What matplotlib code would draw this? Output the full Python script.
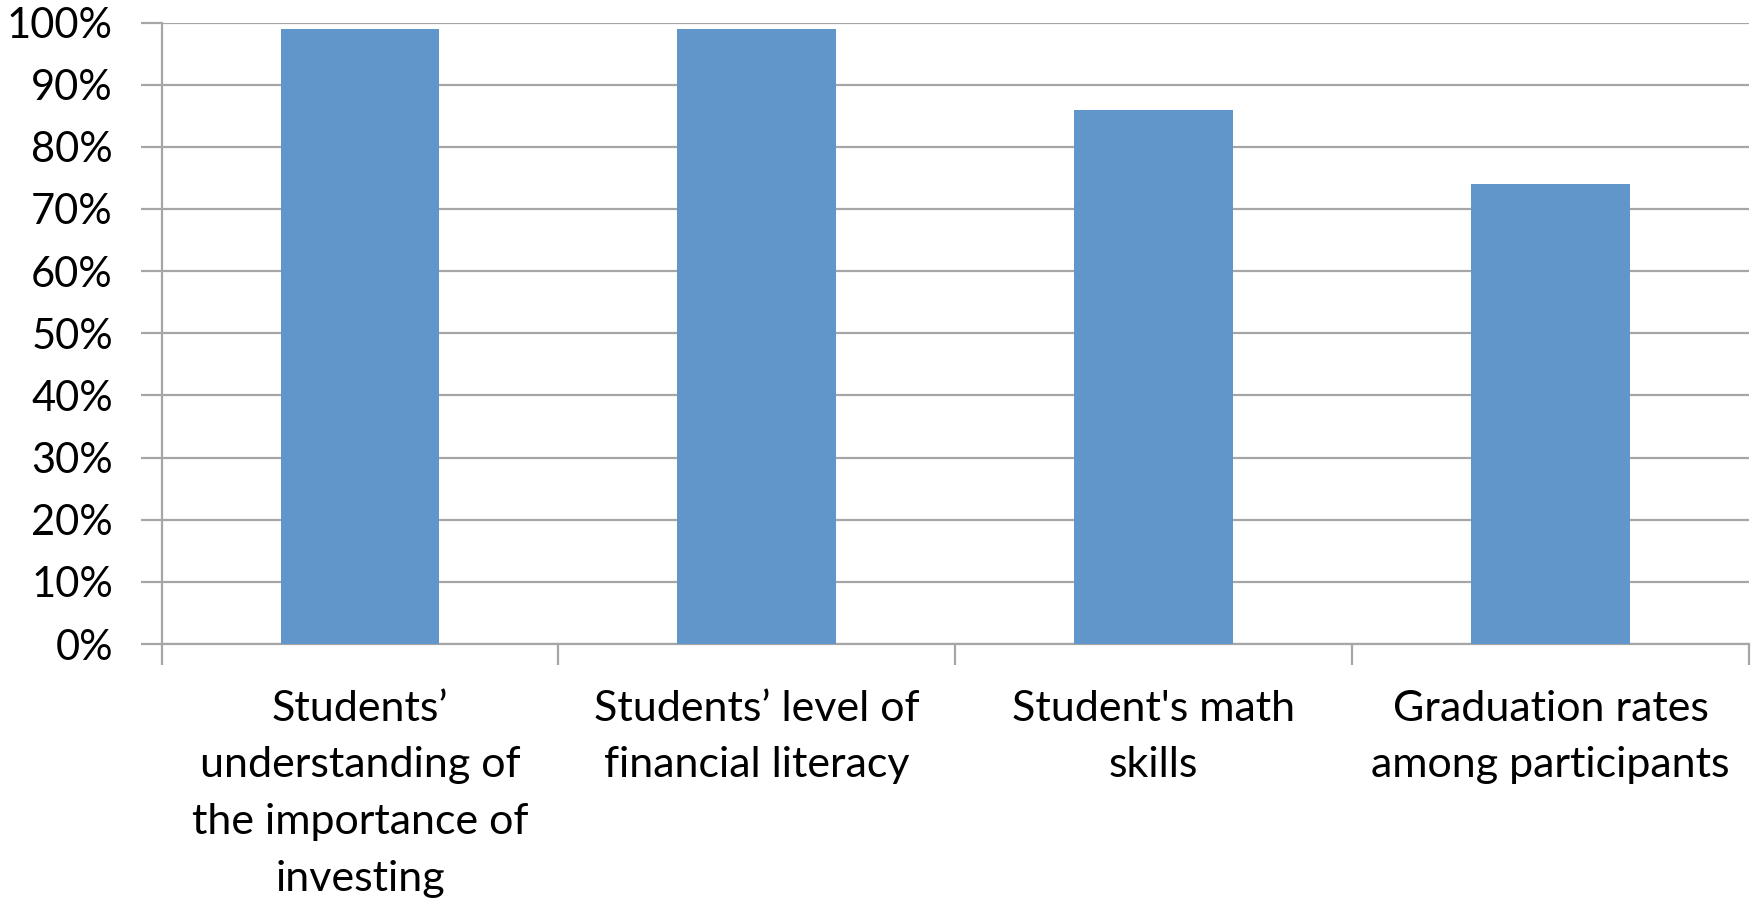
import matplotlib
matplotlib.use("Agg")
import matplotlib.pyplot as plt
from matplotlib.ticker import FixedLocator, PercentFormatter

categories = [
    "Students\u2019\nunderstanding of\nthe importance of\ninvesting",
    "Students\u2019 level of\nfinancial literacy",
    "Student's math\nskills",
    "Graduation rates\namong participants",
]
values = [99, 99, 86, 74]
y_ticks = list(range(0, 101, 10))

BAR_COLOR = "#6096C9"
GRID_COLOR = "#A6A6A6"

plt.rcParams["font.family"] = ["Lato", "DejaVu Sans"]

fig = plt.figure(figsize=(17.56, 9.02), dpi=100)
ax = fig.add_axes([0.092, 0.286, 0.904, 0.689])

x = range(len(values))
ax.bar(x, values, width=0.4, color=BAR_COLOR, zorder=3)

ax.set_xlim(-0.5, len(values) - 0.5)
ax.set_ylim(0, 100)
ax.set_yticks(y_ticks)
ax.yaxis.set_major_formatter(PercentFormatter(decimals=0))
ax.grid(axis="y", color=GRID_COLOR, linewidth=1.6, zorder=0)

ax.set_xticks(list(x))
ax.set_xticklabels(categories, fontsize=31, linespacing=1.6)
ax.xaxis.set_minor_locator(FixedLocator([i - 0.5 for i in range(len(values) + 1)]))
ax.tick_params(axis="x", which="major", length=0, pad=33)
ax.tick_params(axis="x", which="minor", length=15, width=1.6, color=GRID_COLOR, direction="out")
ax.tick_params(axis="y", labelsize=30, length=15, width=1.6, color=GRID_COLOR, direction="out", pad=20)

for side in ("top", "right"):
    ax.spines[side].set_visible(False)
for side in ("left", "bottom"):
    ax.spines[side].set_color(GRID_COLOR)
    ax.spines[side].set_linewidth(1.6)

fig.savefig("out.png", dpi=100)
